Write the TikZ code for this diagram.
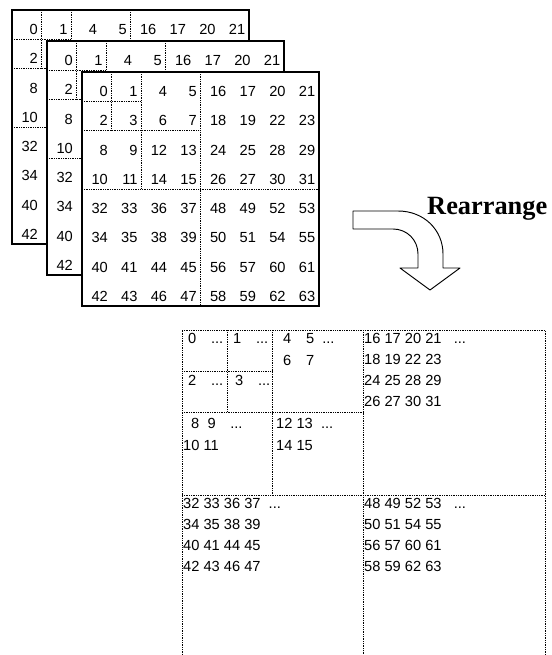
\documentclass[tikz,border=0pt]{standalone}
\usepackage{fontspec}
\setmainfont{Liberation Sans}
\newfontfamily\serifbold{Liberation Serif}
\usetikzlibrary{positioning, calc}

\newcommand{\more}{...}

% one z-ordered 8x8 block: #1,#2 top-left corner, #3 name prefix,
% #4 = 1 for all numbers, 0 for the visible top row and left column only
\newcommand{\zlayer}[4]{%
  \draw[frame, fill=white] (#1,#2) rectangle ++(237,234);
  \foreach \k in {1,2,4} {
    \draw[dotline] (#1+\k*29.625,#2) -- ++(0,2*\k*29.25);
    \draw[dotline] (#1,#2+\k*29.25) -- ++(2*\k*29.625,0);
  }
  \foreach \vr [count=\r] in {0,2,8,10,32,34,40,42} {
    \foreach \vc [count=\c] in {0,1,4,5,16,17,20,21} {
      \pgfmathtruncatemacro{\v}{\vr+\vc}
      \pgfmathtruncatemacro{\shown}{(#4==1)||(\r==1)||(\c==1)}
      \ifnum\shown=1
        \node[num] (#3-\r-\c) at (#1+\c*29.625-3.5,#2+\r*29.25-4.5) {\v};
      \fi
    }
  }
}

\begin{document}
\begin{tikzpicture}[x=0.03cm, y=-0.03cm,
    frame/.style={draw=black, line width=1.2pt},
    dotline/.style={line width=0.6pt, dash pattern=on 0.7pt off 0.8pt},
    num/.style={anchor=base east, inner sep=0pt, font=\fontsize{12.5}{14}\selectfont},
    cell/.style={anchor=base west, inner sep=0pt, font=\fontsize{12.5}{14}\selectfont},
    bigarrow/.style={draw=black, line width=0.8pt, fill=white, line join=round}]
    \useasboundingbox (0,0) rectangle (551,655);

    % Stacked blocks
    \zlayer{12}{10}{back}{0}
    \zlayer{47}{41}{mid}{0}
    \zlayer{82}{72}{front}{1}

    % Rearrange arrow
    \draw[bigarrow] (353,211) -- (398,211) .. controls (424,211) and (443,230) .. (443,254)
        -- (443,268) -- (460,268) -- (430,290) -- (400,268) -- (418,268) -- (418,254)
        .. controls (418,240) and (407,229) .. (393,229) -- (353,229) -- cycle;
    \node[anchor=base west, inner sep=0pt, font=\serifbold\bfseries\fontsize{22.5}{26}\selectfont]
        (rearr) at (427,215) {Rearrange};

    % Rearranged layout
    \draw[dotline] (182,655) |- (545,330) -- (545,655);
    \foreach \k in {1,2} {
      \draw[dotline] (182+\k*45.375,330) -- ++(0,2*\k*41.25);
      \draw[dotline] (182,330+\k*41.25) -- ++(2*\k*45.375,0);
    }
    \draw[dotline] (363.5,330) -- (363.5,655);
    \draw[dotline] (182,495) -- (545,495);

    \node[cell] (q0) at (188,343) {0\quad\more};
    \node[cell] (q1) at (233,343) {1\quad\more};
    \node[cell] (q2) at (188,385) {2\quad\more};
    \node[cell] (q3) at (235,385) {3\quad\more};
    \node[cell] (q4) at (283,343) {4\quad5\ \ \more};
    \node[cell] (q6) at (283,365) {6\quad7};
    \node[cell] (q8) at (191,428) {8\ \ 9\quad\more};
    \node[cell] (q10) at (183,450) {10 11};
    \node[cell] (q12) at (276,428) {12 13\ \ \more};
    \node[cell] (q14) at (276,450) {14 15};

    \foreach \t [count=\i] in {{16 17 20 21\ \ \ \more},{18 19 22 23},{24 25 28 29},{26 27 30 31}}
      \node[cell] (tr\i) at (364,343+\i*21.3-21.3) {\t};
    \foreach \t [count=\i] in {{32 33 36 37\ \ \more},{34 35 38 39},{40 41 44 45},{42 43 46 47}}
      \node[cell] (bl\i) at (183,508+\i*21-21) {\t};
    \foreach \t [count=\i] in {{48 49 52 53\ \ \ \more},{50 51 54 55},{56 57 60 61},{58 59 62 63}}
      \node[cell] (br\i) at (364,508+\i*21-21) {\t};
\end{tikzpicture}
\end{document}
